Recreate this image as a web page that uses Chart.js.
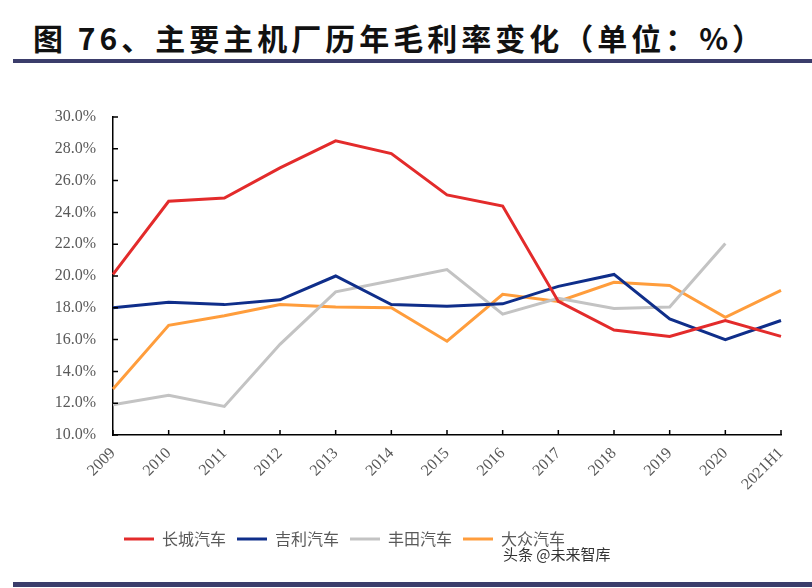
<!DOCTYPE html>
<html>
<head>
<meta charset="utf-8">
<script src="https://cdn.jsdelivr.net/npm/chart.js@4.4.1/dist/chart.umd.min.js"></script>
<style>
  html, body { margin: 0; padding: 0; background: #fff; }
  body { width: 812px; height: 588px; position: relative; overflow: hidden; }
  #title {
    position: absolute; left: 33px; top: 15px; letter-spacing: 4px;
    font: bold 30px "Noto Sans CJK SC", sans-serif; color: #111; white-space: nowrap;
  }
  .bar { position: absolute; left: 13px; right: 0; background: #3b3d6b; }
  #topBar { top: 59px; height: 4px; }
  #bottomBar { top: 582px; height: 5px; }
  #mark {
    position: absolute; left: 503px; top: 543px;
    font: 15px "Noto Sans CJK SC", sans-serif; color: #333; white-space: nowrap;
  }
  #chart { position: absolute; left: 0; top: 80px; }
</style>
</head>
<body>
<div id="title">图 76、主要主机厂历年毛利率变化（单位：%）</div>
<div id="topBar" class="bar"></div>
<canvas id="chart" width="812" height="500"></canvas>
<div id="mark">头条 @未来智库</div>
<div id="bottomBar" class="bar"></div>
<script>
"use strict";

const YEARS = ["2009", "2010", "2011", "2012", "2013", "2014", "2015", "2016", "2017", "2018", "2019", "2020", "2021H1"];

// gross margin, %
const GREAT_WALL = [20.1, 24.7, 24.9, 26.8, 28.5, 27.7, 25.1, 24.4, 18.4, 16.6, 16.2, 17.2, 16.2];
const GEELY      = [18.0, 18.35, 18.2, 18.5, 20.0, 18.2, 18.1, 18.25, 19.35, 20.1, 17.3, 16.0, 17.2];
const TOYOTA     = [11.9, 12.5, 11.8, 15.7, 19.0, 19.7, 20.4, 17.6, 18.6, 17.95, 18.05, 22.05, null];
const VW         = [12.9, 16.9, 17.5, 18.2, 18.05, 18.0, 15.9, 18.85, 18.4, 19.6, 19.4, 17.4, 19.1];

const Y_MIN = 10, Y_MAX = 30, Y_STEP = 2;

const TICK_FONT = { family: "'Liberation Serif', 'Times New Roman', serif", size: 16 };
const LEGEND_FONT = { family: "'Noto Sans CJK SC', sans-serif", size: 16 };
const GREY_TEXT = "#595959";

const line = (label, data, color) => ({
  label, data,
  borderColor: color,
  backgroundColor: color,
  borderWidth: 3,
  pointRadius: 0,
  tension: 0,
  spanGaps: false,
});

// short inward tick marks on both axes
const innerTicks = {
  id: "innerTicks",
  afterDraw(chart) {
    const { ctx, scales: { x, y } } = chart;
    ctx.save();
    ctx.strokeStyle = "#000";
    ctx.lineWidth = 1.5;
    ctx.beginPath();
    x.ticks.forEach((t, i) => {
      const px = x.getPixelForTick(i);
      ctx.moveTo(px, x.top);
      ctx.lineTo(px, x.top - 5);
    });
    y.ticks.forEach((t, i) => {
      const py = y.getPixelForTick(i);
      ctx.moveTo(y.right, py);
      ctx.lineTo(y.right + 5, py);
    });
    ctx.stroke();
    ctx.restore();
  },
};

new Chart(document.getElementById("chart"), {
  type: "line",
  data: {
    labels: YEARS,
    datasets: [
      line("长城汽车", GREAT_WALL, "#e32b2b"),
      line("吉利汽车", GEELY, "#0f2e8a"),
      line("丰田汽车", TOYOTA, "#c3c3c3"),
      line("大众汽车", VW, "#ff9d3c"),
    ],
  },
  options: {
    responsive: false,
    animation: false,
    devicePixelRatio: 1,
    layout: { padding: { top: 37, right: 31, left: 0, bottom: 23 } },
    plugins: {
      tooltip: { enabled: false },
      legend: {
        position: "bottom",
        align: "start",
        fullSize: false,
        labels: {
          boxWidth: 30,
          boxHeight: 3,
          padding: 11,
          color: GREY_TEXT,
          font: LEGEND_FONT,
          generateLabels(chart) {
            return chart.data.datasets.map((ds, i) => ({
              text: ds.label,
              fillStyle: ds.borderColor,
              strokeStyle: ds.borderColor,
              lineWidth: 0,
              fontColor: GREY_TEXT,
              datasetIndex: i,
              hidden: false,
            }));
          },
        },
      },
    },
    scales: {
      x: {
        offset: false,
        grid: { display: false, drawTicks: false },
        border: { display: true, color: "#000", width: 1.5 },
        ticks: {
          autoSkip: false,
          minRotation: 45,
          maxRotation: 45,
          padding: 9,
          color: GREY_TEXT,
          font: TICK_FONT,
        },
        afterFit(scale) { scale.height = 85; },
      },
      y: {
        min: Y_MIN,
        max: Y_MAX,
        grid: { display: false, drawTicks: false },
        border: { display: true, color: "#000", width: 1.5 },
        ticks: {
          stepSize: Y_STEP,
          padding: 17,
          color: GREY_TEXT,
          font: TICK_FONT,
          callback: (v) => v.toFixed(1) + "%",
        },
        afterFit(scale) { scale.width = 113; },
      },
    },
  },
  plugins: [innerTicks],
});
</script>
</body>
</html>
